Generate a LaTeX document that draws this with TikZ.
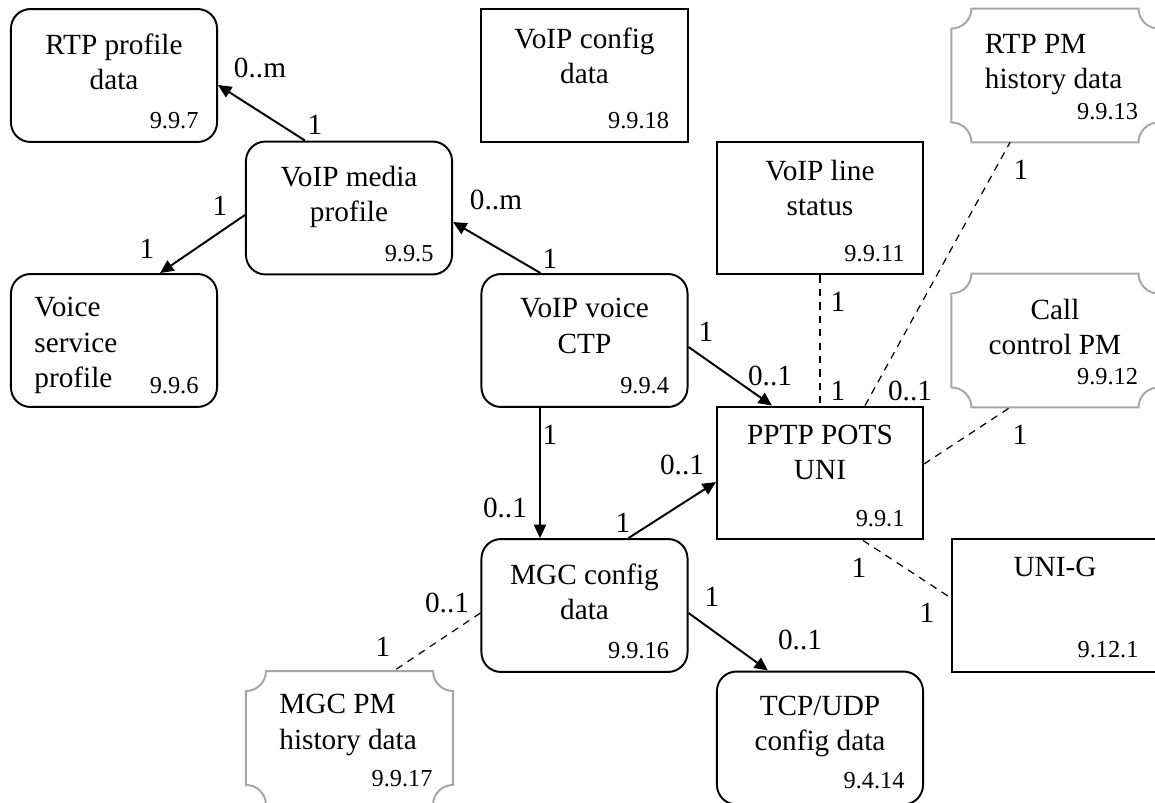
\documentclass[tikz,border=0pt]{standalone}
\usepackage{fontspec}
\setmainfont{Liberation Serif}
\usetikzlibrary{arrows.meta,calc}

\begin{document}
\begin{tikzpicture}[
    x=0.41pt, y=-0.41pt,
    block/.style={draw, line width=0.8pt, minimum width=84.5pt, minimum height=54.5pt, inner sep=0pt},
    rblock/.style={block, rounded corners=8pt},
    pmblock/.style={minimum width=84.5pt, minimum height=54.5pt, inner sep=0pt},
    pmline/.style={draw=gray!70, line width=0.8pt},
    btitle/.style={anchor=north, align=center, inner sep=0pt, font=\fontsize{12}{14.4}\selectfont},
    ltitle/.style={btitle, anchor=north west, align=left},
    num/.style={anchor=base east, inner sep=0pt, font=\fontsize{10}{12}\selectfont},
    mult/.style={inner sep=0pt, font=\fontsize{12}{14.4}\selectfont},
    arrow/.style={-{Triangle[length=5.5pt,width=5pt]}, line width=0.8pt},
    dashline/.style={dash pattern=on 3pt off 2.5pt, line width=0.5pt}
]
    \useasboundingbox (0,0) rectangle (1155,803);

    % managed entities
    \node[rblock] (rtp) at (114,75.5) {};
    \node[btitle] (rtpT) at ($(rtp.north)+(0,25)$) {RTP profile\\data};
    \node[num] (rtpN) at ($(rtp.south east)+(-19,-14)$) {9.9.7};

    \node[block] (vcfg) at (584.5,75.5) {};
    \node[btitle] (vcfgT) at ($(vcfg.north)+(0,19)$) {VoIP config\\data};
    \node[num] (vcfgN) at ($(vcfg.south east)+(-19,-14)$) {9.9.18};

    \node[pmblock] (rtppm) at (1055,75.5) {};
    \node[ltitle] (rtppmT) at ($(rtppm.north west)+(33,25)$) {RTP PM\\history data};
    \node[num] (rtppmN) at ($(rtppm.south east)+(-20,-23)$) {9.9.13};

    \node[rblock] (media) at (349,208) {};
    \node[btitle] (mediaT) at ($(media.north)+(0,25)$) {VoIP media\\profile};
    \node[num] (mediaN) at ($(media.south east)+(-19,-14)$) {9.9.5};

    \node[block] (status) at (820,208) {};
    \node[btitle] (statusT) at ($(status.north)+(0,19)$) {VoIP line\\status};
    \node[num] (statusN) at ($(status.south east)+(-19,-14)$) {9.9.11};

    \node[rblock] (voice) at (114,340.5) {};
    \node[ltitle] (voiceT) at ($(voice.north west)+(24,24)$) {Voice\\service\\profile};
    \node[num] (voiceN) at ($(voice.south east)+(-19,-14)$) {9.9.6};

    \node[rblock] (ctp) at (584.5,340.5) {};
    \node[btitle] (ctpT) at ($(ctp.north)+(0,25)$) {VoIP voice\\CTP};
    \node[num] (ctpN) at ($(ctp.south east)+(-19,-14)$) {9.9.4};

    \node[pmblock] (callpm) at (1055,340.5) {};
    \node[btitle] (callpmT) at ($(callpm.north)+(0,25)$) {Call\\control PM};
    \node[num] (callpmN) at ($(callpm.south east)+(-20,-23)$) {9.9.12};

    \node[block] (pptp) at (820,473) {};
    \node[btitle] (pptpT) at ($(pptp.north)+(0,19)$) {PPTP POTS\\UNI};
    \node[num] (pptpN) at ($(pptp.south east)+(-19,-14)$) {9.9.1};

    \node[rblock] (mgc) at (584.5,605.5) {};
    \node[btitle] (mgcT) at ($(mgc.north)+(0,25)$) {MGC config\\data};
    \node[num] (mgcN) at ($(mgc.south east)+(-19,-14)$) {9.9.16};

    \node[block] (unig) at (1055,605.5) {};
    \node[btitle] (unigT) at ($(unig.north)+(0,19)$) {UNI-G};
    \node[num] (unigN) at ($(unig.south east)+(-20,-15)$) {9.12.1};

    \node[pmblock] (mgcpm) at (349.5,738) {};
    \node[ltitle] (mgcpmT) at ($(mgcpm.north west)+(33,23)$) {MGC PM\\history data};
    \node[num] (mgcpmN) at ($(mgcpm.south east)+(-20,-18)$) {9.9.17};

    \node[rblock] (tcp) at (820,738) {};
    \node[btitle] (tcpT) at ($(tcp.north)+(0,25)$) {TCP/UDP\\config data};
    \node[num] (tcpN) at ($(tcp.south east)+(-19,-17)$) {9.4.14};

    % notched outlines of the PM boxes
    \foreach \n in {rtppm,callpm,mgcpm}
        \draw[pmline] ($(\n.north west)+(20,0)$) -- ($(\n.north east)+(-20,0)$)
            arc[start angle=180,end angle=90,radius=20] -- ($(\n.south east)+(0,-20)$)
            arc[start angle=270,end angle=180,radius=20] -- ($(\n.south west)+(20,0)$)
            arc[start angle=0,end angle=-90,radius=20] -- ($(\n.north west)+(0,20)$)
            arc[start angle=90,end angle=0,radius=20] -- cycle;

    % associations
    \draw[arrow] ($(media.north)+(-44,0)$) -- ($(rtp.east)+(0,9.5)$);
    \draw[arrow] ($(media.west)+(0,7)$) -- ($(voice.north)+(46,0)$);
    \draw[arrow] ($(ctp.north)+(-44,0)$) -- ($(media.east)+(0,14)$);
    \draw[arrow] ($(ctp.east)+(0,6.5)$) -- ($(pptp.north)+(-48,0)$);
    \draw[arrow] ($(ctp.south)+(-44.5,0)$) -- ($(mgc.north)+(-44.5,0)$);
    \draw[arrow] ($(mgc.north)+(44,0)$) -- ($(pptp.west)+(0,9)$);
    \draw[arrow] ($(mgc.east)+(0,7.5)$) -- ($(tcp.north)+(-52,0)$);

    \draw[dashline] (status.south) -- (pptp.north);
    \draw[dashline] ($(pptp.north)+(45,0)$) -- ($(rtppm.south)+(-45,0)$);
    \draw[dashline] ($(pptp.east)+(0,-9)$) -- ($(callpm.south)+(-45,0)$);
    \draw[dashline] ($(pptp.south)+(43,0)$) -- ($(unig.west)+(0,-7.5)$);
    \draw[dashline] ($(mgc.west)+(0,7.5)$) -- ($(mgcpm.north)+(44,0)$);

    % multiplicities
    \node[mult] (m1a) at (260,68) {0..m};
    \node[mult] (m1b) at (315,125) {1};
    \node[mult] (m2a) at (220,206) {1};
    \node[mult] (m2b) at (147,249) {1};
    \node[mult] (m3a) at (496,200) {0..m};
    \node[mult] (m3b) at (550,259) {1};
    \node[mult] (m4a) at (706,332) {1};
    \node[mult] (m4b) at (770,376) {0..1};
    \node[mult] (m5a) at (550,435) {1};
    \node[mult] (m5b) at (505,508) {0..1};
    \node[mult] (m6a) at (623,523) {1};
    \node[mult] (m6b) at (682,465) {0..1};
    \node[mult] (m7a) at (712,597) {1};
    \node[mult] (m7b) at (800,640) {0..1};
    \node[mult] (m8a) at (838,302) {1};
    \node[mult] (m8b) at (838,391) {1};
    \node[mult] (m9a) at (910,391) {0..1};
    \node[mult] (m9b) at (1021,170) {1};
    \node[mult] (m10a) at (1020,435) {1};
    \node[mult] (m11a) at (859,568) {1};
    \node[mult] (m11b) at (927,613) {1};
    \node[mult] (m12a) at (447,603) {0..1};
    \node[mult] (m12b) at (383,647) {1};

\end{tikzpicture}
\end{document}
